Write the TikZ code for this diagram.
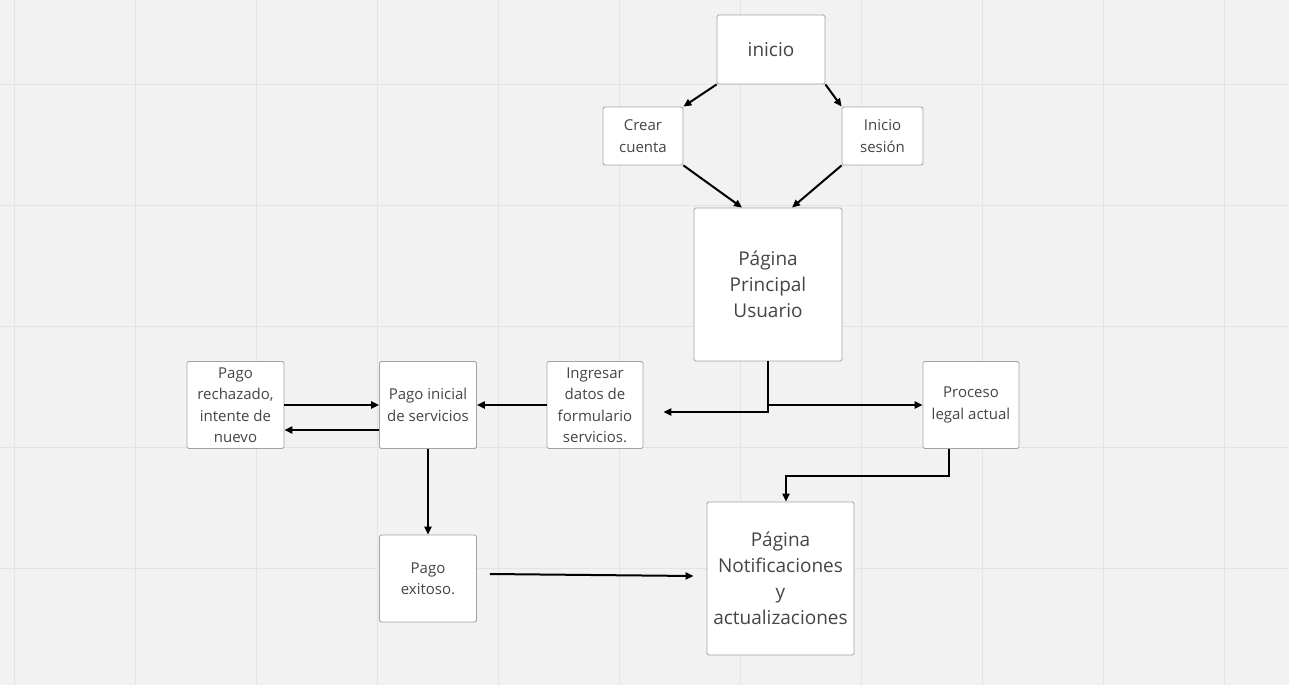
\documentclass[tikz,border=0pt]{standalone}
\usepackage{fontspec}
\setmainfont{Open Sans}
\usetikzlibrary{arrows.meta}
\definecolor{bg}{HTML}{F2F2F2}
\definecolor{gridc}{HTML}{E4E4E4}
\definecolor{boxline}{HTML}{A3A3A3}
\definecolor{txt}{HTML}{454545}
\tikzset{
  box/.style={draw=boxline, fill=white, rounded corners=1.5pt, line width=0.8pt,
    text=txt, align=center, inner sep=0pt},
  bigtxt/.style={font=\fontsize{19}{26}\selectfont},
  smalltxt/.style={font=\fontsize{15}{21.5}\selectfont},
  arr/.style={line width=2pt, draw=black, -{Triangle[length=8pt,width=7pt]}}
}
\begin{document}
\begin{tikzpicture}[x=1pt,y=-1pt]
\fill[bg] (0,0) rectangle (1289,685);
\useasboundingbox (0,0) rectangle (1289,685);
\foreach \gx in {14,135,256,377,498,619,740,861,982,1103,1224}
  \draw[gridc, line width=1pt] (\gx,0) -- (\gx,685);
\foreach \gy in {84,205,326,447,568}
  \draw[gridc, line width=1pt] (0,\gy) -- (1289,\gy);

\node[box,bigtxt,minimum width=108pt,minimum height=69pt] (inicio) at (771,49.5) {inicio};
\node[box,smalltxt,minimum width=80pt,minimum height=58pt] (crear) at (643,136) {Crear\\cuenta};
\node[box,smalltxt,minimum width=81pt,minimum height=58pt] (sesion) at (882.5,136) {Inicio\\sesión};
\node[box,bigtxt,minimum width=148pt,minimum height=153pt] (principal) at (768,284.5) {Página\\Principal\\Usuario};
\node[box,smalltxt,minimum width=97pt,minimum height=87pt] (rechazado) at (235.5,405) {Pago\\rechazado,\\intente de\\nuevo};
\node[box,smalltxt,minimum width=97pt,minimum height=87pt] (inicial) at (428,405) {Pago inicial\\de servicios};
\node[box,smalltxt,minimum width=96pt,minimum height=87pt] (ingresar) at (595,405) {Ingresar\\datos de\\formulario\\servicios.};
\node[box,smalltxt,minimum width=96pt,minimum height=87pt] (proceso) at (971,405) {Proceso\\legal actual};
\node[box,smalltxt,minimum width=97pt,minimum height=87pt] (exitoso) at (428,578.5) {Pago\\exitoso.};
\node[box,bigtxt,minimum width=147pt,minimum height=153pt] (notif) at (780.5,578.5) {Página\\Notificaciones\\y\\actualizaciones};

\draw[arr] (inicio.south west) -- (crear.north east);
\draw[arr] (inicio.south east) -- (sesion.north west);
\draw[arr] (crear.south east) -- ([xshift=-26pt]principal.north);
\draw[arr] (sesion.south west) -- ([xshift=24pt]principal.north);
\draw[arr] (principal.south) |- ([xshift=20pt,yshift=-7pt]ingresar.east);
\draw[arr] (principal.south |- proceso.west) -- (proceso.west);
\draw[arr] (rechazado.east) -- (inicial.west);
\draw[arr] ([yshift=-25pt]inicial.west) -- ([yshift=-25pt]rechazado.east);
\draw[arr] (ingresar.west) -- (inicial.east);
\draw[arr] (inicial.south) -- (exitoso.north);
\draw[arr] ([xshift=-22pt]proceso.south) |- ([xshift=5.5pt,yshift=26pt]notif.north) -- ([xshift=5.5pt]notif.north);
\draw[arr] ([xshift=13pt,yshift=4.5pt]exitoso.east) -- ([xshift=-13pt,yshift=2.5pt]notif.west);
\end{tikzpicture}
\end{document}
